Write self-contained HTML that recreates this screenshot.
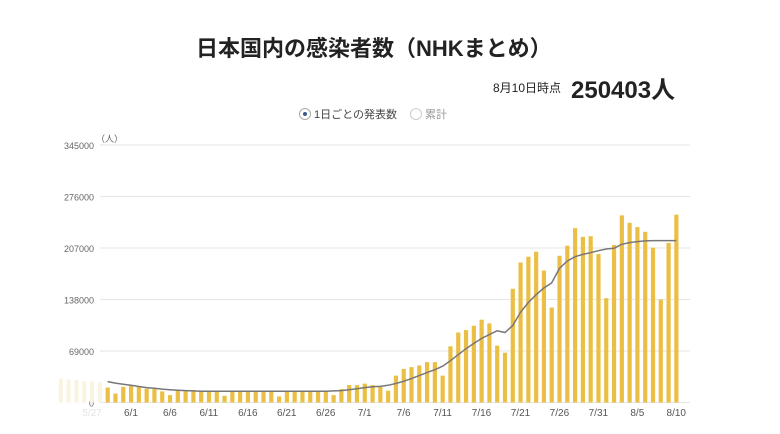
<!DOCTYPE html>
<html><head><meta charset="utf-8">
<style>
body{margin:0;background:#fff;width:780px;height:434px;overflow:hidden;font-family:"Liberation Sans","Noto Sans CJK JP",sans-serif;}
#wrap{position:relative;width:780px;height:434px;}
</style></head><body>
<div id="wrap">
<div style="position:absolute;left:196px;top:31px;font-size:22px;font-weight:bold;color:#222;white-space:nowrap;">日本国内の感染者数（NHKまとめ）</div>
<div style="position:absolute;left:493px;top:79px;font-size:12px;color:#222;white-space:nowrap;">8月10日時点</div>
<div style="position:absolute;left:571px;top:70px;font-size:24px;font-weight:bold;color:#222;white-space:nowrap;">250403人</div>
<div style="position:absolute;left:299px;top:106px;font-size:11px;color:#444;white-space:nowrap;"><span style="display:inline-block;width:10px;height:10px;border:1px solid #aaa;border-radius:50%;vertical-align:-2px;position:relative;margin-right:3px;"><span style="position:absolute;left:3px;top:3px;width:4px;height:4px;border-radius:50%;background:#3a5a88;"></span></span>1日ごとの発表数</div>
<div style="position:absolute;left:410px;top:106px;font-size:11px;color:#999;white-space:nowrap;"><span style="display:inline-block;width:10px;height:10px;border:1px solid #ccc;border-radius:50%;vertical-align:-2px;margin-right:3px;"></span>累計</div>
<svg id="chart" width="780" height="434" style="position:absolute;left:0;top:0" xmlns="http://www.w3.org/2000/svg"></svg>
</div>
<script>
const yTicks=[0,69000,138000,207000,276000,345000];
const xLabels=["5/27","6/1","6/6","6/11","6/16","6/21","6/26","7/1","7/6","7/11","7/16","7/21","7/26","7/31","8/5","8/10"];
const fadedValues=[32000,31000,30000,29000,28000,27000];
const dailyValues=[20000,12000,21000,
23400,21600,18500,18000,14900,9900,17100,16700,16700,15800,15800,14900,9000,15800,15800,15800,15800,14900,14900,8100,15800,15800,15800,15800,15800,15800,9900,18000,23400,23400,
25300,23400,21600,15800,36000,45000,47400,49600,54100,54100,36000,75300,93800,97000,102800,111000,106000,76200,66700,152400,187600,195300,202000,176800,127200,196600,210100,233600,221900,222800,198900,139800,211100,250700,240800,235000,228700,207400,138000,213800,251700];
const lineValues=[28000,26000,24500,
23000,21500,20000,19000,18000,17200,16500,16000,15500,15200,15000,15000,15000,15000,15000,15000,15000,15000,15000,15000,15000,15000,15000,15000,15000,15000,15500,16000,17000,18500,
20000,21000,21600,23000,25500,28400,32000,36000,40000,44000,48700,56000,64000,72000,79000,85700,91000,96000,93800,103000,120900,134000,144300,153400,160100,179500,189400,195300,198400,200700,203400,205700,206600,212000,214200,215600,216500,216900,216900,216900,216900];
const svg=document.getElementById('chart');
const NS='http://www.w3.org/2000/svg';
const y0=402.5, yTop=145, yMax=345000;
const day0X=107.6, dayW=7.79; // day index 0 = 5/29
function yS(v){return y0-(v/yMax)*(y0-yTop);}
function xS(i){return day0X+i*dayW;}
function mk(tag,attrs){const e=document.createElementNS(NS,tag);for(const k in attrs)e.setAttribute(k,attrs[k]);svg.appendChild(e);return e;}
yTicks.forEach((t,i)=>{
  const g=mk('line',{x1:100,x2:690,y1:yS(t),y2:yS(t),stroke:'#e6e6e6','stroke-width':1});
  
  
  const tx=mk('text',{x:94,y:yS(t)+4,'text-anchor':'end','font-size':9,fill:'#666','font-family':'Liberation Sans, sans-serif'});
  tx.textContent=t;
  
  
});
const unit=mk('text',{x:96,y:142,'font-size':9,fill:'#666','font-family':'Liberation Sans, Noto Sans CJK JP, sans-serif'});
unit.textContent='（人）';


fadedValues.forEach((v,i)=>{
  const idx=i-fadedValues.length;
  const r=mk('rect',{x:xS(idx)-2,y:yS(v),width:4,height:y0-yS(v),fill:'#faf3e1'});
  
  
});
dailyValues.forEach((v,i)=>{
  const r=mk('rect',{x:xS(i)-2,y:yS(v),width:4.2,height:y0-yS(v),fill:'#ebbf45'});
  
  
});
let d='';
lineValues.forEach((v,i)=>{d+=(i?'L':'M')+xS(i).toFixed(1)+','+yS(v).toFixed(1);});
const p=mk('path',{d:d,fill:'none',stroke:'#777','stroke-width':1.5});


xLabels.forEach((l,i)=>{
  const idx=-2+i*5;
  const t=mk('text',{x:xS(idx),y:416,'text-anchor':'middle','font-size':10,fill:i===0?'#e4e4e4':'#555','font-family':'Liberation Sans, sans-serif'});
  t.textContent=l;
  
  
});
</script>
</body></html>
